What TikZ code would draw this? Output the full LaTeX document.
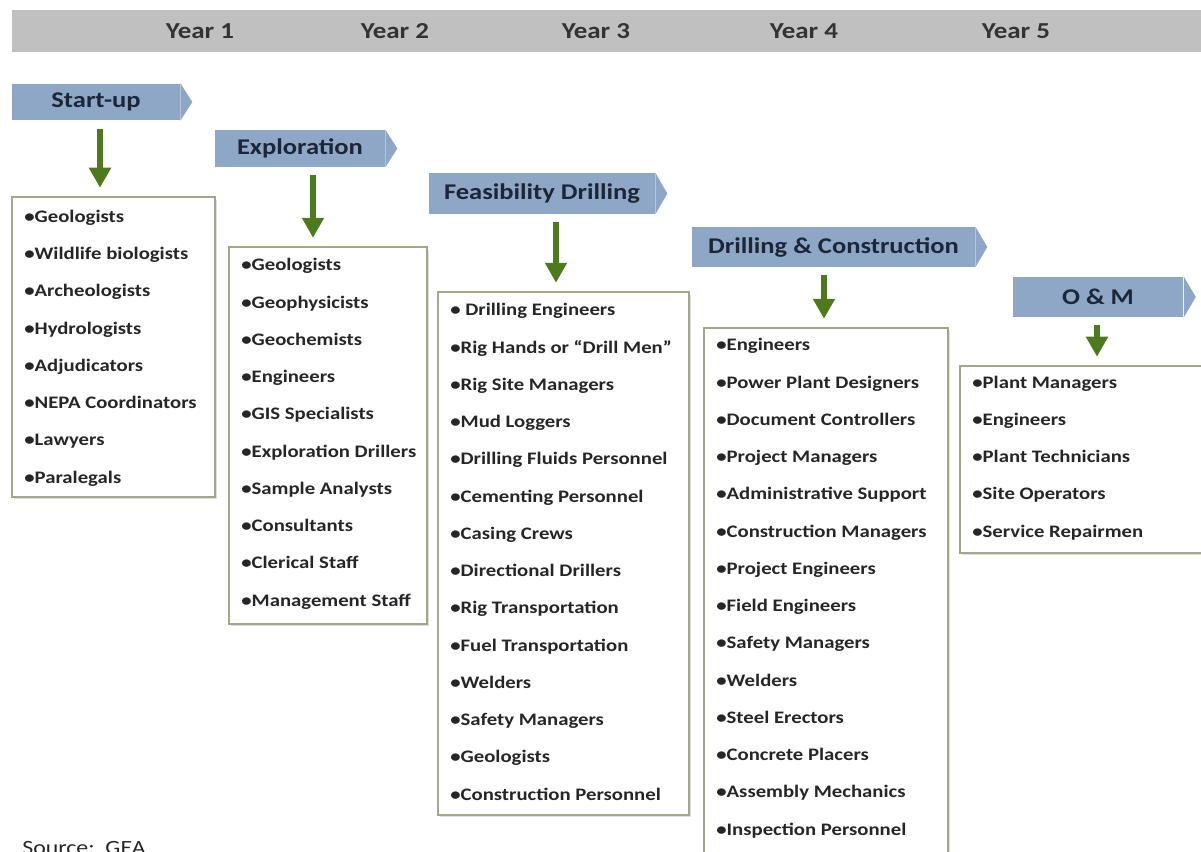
\documentclass[tikz,border=0pt]{standalone}
\usepackage{fontspec}
\setmainfont{Carlito}[FakeStretch=1.18]
\usepackage{tikz}
\usetikzlibrary{arrows.meta, calc, shadows}
\definecolor{BarGray}{RGB}{192, 192, 192}
\definecolor{PhaseBlue}{RGB}{142, 167, 198}
\definecolor{PhaseText}{RGB}{28, 38, 54}
\definecolor{ArrowGreen}{RGB}{78, 122, 30}
\definecolor{BoxLine}{RGB}{160, 168, 140}

\begin{document}
\begin{tikzpicture}[x=0.02cm, y=-0.02cm,
  yr/.style={font=\fontsize{13}{15}\selectfont\bfseries, text=black!80},
  phase/.style={fill=PhaseBlue, text=PhaseText, inner sep=0pt,
                font=\fontsize{12.8}{15}\selectfont\bfseries,
                append after command={
                  \pgfextra{\fill[PhaseBlue] (\tikzlastnode.north east)
                    -- ($(\tikzlastnode.east)+(0.24cm,0)$)
                    -- (\tikzlastnode.south east) -- cycle;}}},
  crew/.style={draw=BoxLine, line width=0.9pt, fill=white, inner sep=0pt,
               drop shadow={shadow xshift=0.04cm, shadow yshift=-0.05cm,
                            fill=black!25, opacity=0.5}},
  % items sit on the baseline of their last line
  items/.style={anchor=base west, align=left, inner sep=0pt,
                font=\fontsize{10}{21.2}\selectfont\bfseries, text=black!85},
  arr/.style={-{Triangle[width=0.42cm,length=0.4cm]}, line width=3.3pt,
              color=ArrowGreen, shorten <=0.16cm, shorten >=0.17cm}
]
  \useasboundingbox (0,0) rectangle (1201,852);

  % time line
  \node[fill=BarGray, minimum width=23.78cm, minimum height=0.84cm,
        inner sep=0pt] (bar) at (606.5,31) {};
  \node[yr] (y1) at (200,31) {Year 1};
  \node[yr] (y2) at (395,31) {Year 2};
  \node[yr] (y3) at (596,31) {Year 3};
  \node[yr] (y4) at (804,31) {Year 4};
  \node[yr] (y5) at (1016,31) {Year 5};

  % phases
  \node[phase, minimum width=3.36cm, minimum height=0.74cm] (su) at (96,102) {Start-up};
  \node[phase, minimum width=3.4cm, minimum height=0.74cm] (ex) at (300,148.5) {Exploration};
  \node[phase, minimum width=4.52cm, minimum height=0.82cm] (fd) at (542,193.5) {Feasibility Drilling};
  \node[phase, minimum width=5.66cm, minimum height=0.8cm] (dc) at (833.5,247) {Drilling \& Construction};
  \node[phase, minimum width=3.42cm, minimum height=0.8cm] (om) at (1098,297) {O \& M};

  % crew boxes
  \node[crew, minimum width=4.06cm, minimum height=6cm] (b1) at (113.5,347) {};
  \node[crew, minimum width=3.96cm, minimum height=7.54cm] (b2) at (328,435.5) {};
  \node[crew, minimum width=5.02cm, minimum height=10.46cm] (b3) at (563.5,553.5) {};
  \node[crew, minimum width=4.88cm, minimum height=10.8cm] (b4) at (826,598) {};
  \node[crew, minimum width=5cm, minimum height=3.74cm] (b5) at (1085,459.5) {};

  \draw[arr] (su.south -| 100,0) -- (b1.north -| 100,0);
  \draw[arr] (ex.south -| 313,0) -- (b2.north -| 313,0);
  \draw[arr] (fd.south -| 556,0) -- (b3.north -| 556,0);
  \draw[arr] (dc.south -| 824,0) -- (b4.north -| 824,0);
  \draw[arr] (om.south -| 1097,0) -- (b5.north -| 1097,0);

  \node[items] (l1) at (24,483) {•Geologists\\ •Wildlife biologists\\ •Archeologists\\
    •Hydrologists\\ •Adjudicators\\ •NEPA Coordinators\\ •Lawyers\\ •Paralegals};
  \node[items] (l2) at (241,606) {•Geologists\\ •Geophysicists\\ •Geochemists\\
    •Engineers\\ •GIS Specialists\\ •Exploration Drillers\\ •Sample Analysts\\
    •Consultants\\ •Clerical Staff\\ •Management Staff};
  \node[items] (l3) at (450,800) {• Drilling Engineers\\ •Rig Hands or “Drill Men”\\
    •Rig Site Managers\\ •Mud Loggers\\ •Drilling Fluids Personnel\\
    •Cementing Personnel\\ •Casing Crews\\ •Directional Drillers\\
    •Rig Transportation\\ •Fuel Transportation\\ •Welders\\ •Safety Managers\\
    •Geologists\\ •Construction Personnel};
  \node[items] (l4) at (716,835) {•Engineers\\ •Power Plant Designers\\
    •Document Controllers\\ •Project Managers\\ •Administrative Support\\
    •Construction Managers\\ •Project Engineers\\ •Field Engineers\\
    •Safety Managers\\ •Welders\\ •Steel Erectors\\ •Concrete Placers\\
    •Assembly Mechanics\\ •Inspection Personnel};
  \node[items] (l5) at (972,537) {•Plant Managers\\ •Engineers\\ •Plant Technicians\\
    •Site Operators\\ •Service Repairmen};

  \node[anchor=base west, inner sep=0pt, font=\fontsize{11.5}{13}\selectfont,
        text=black!85] (src) at (22,854) {Source:\ \ GEA};
\end{tikzpicture}
\end{document}
